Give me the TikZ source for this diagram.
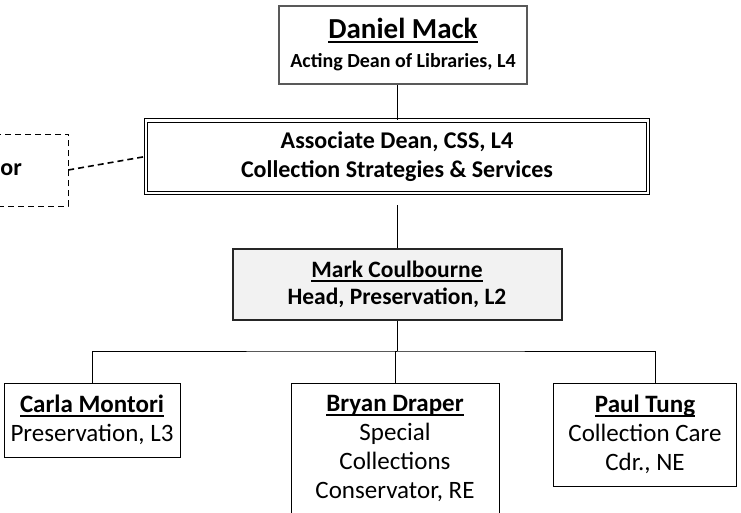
\documentclass[tikz,border=0pt]{standalone}
\usepackage{fontspec}
\setmainfont{Carlito}
\usetikzlibrary{positioning}
\definecolor{headfill}{RGB}{242,242,242}
\tikzset{x=1pt,y=1pt,line width=1.5pt}
\tikzset{
  deanbox/.style={draw=black!65,line width=2.6pt,minimum width=248pt,minimum height=78pt,
    align=flush center,font=\bfseries\fontsize{20}{29}\selectfont},
  assocbox/.style={draw,double=white,double distance=2.6pt,line width=1pt,
    minimum width=502pt,minimum height=72.6pt,align=flush center,font=\bfseries\fontsize{24}{29}\selectfont},
  headbox/.style={draw=black!85,fill=headfill,line width=2pt,minimum width=329pt,minimum height=71pt,
    align=flush center,font=\bfseries\fontsize{23.5}{27}\selectfont},
  staffbox/.style={draw,anchor=north,inner xsep=0pt,inner ysep=12pt,align=flush center,
    font=\fontsize{25}{29}\selectfont},
  vacantbox/.style={draw,dash pattern=on 6pt off 4pt,minimum width=200pt,minimum height=72.5pt}
}
\newcommand{\uln}[1]{\setbox0=\hbox{#1}\rlap{\vrule height -2.2pt depth 4.2pt width \wd0}\box0}

\begin{document}
\begin{tikzpicture}
\useasboundingbox (0,0) rectangle (741,-512);
\clip (0,0) rectangle (741,-512);

% dean, associate dean and head
\node[deanbox] (d1) at (403,-45) {{\fontsize{29}{29}\selectfont\uln{Daniel Mack}}\\Acting Dean of Libraries, L4};
\node[assocbox] (s1) at (397,-156.5) {Associate Dean, CSS, L4\\Collection Strategies \& Services};
\node[headbox] (m1) [below=54.7pt of s1] {\uln{Mark Coulbourne}\\Head, Preservation, L2};

% box on the left, mostly outside the page
\node[vacantbox] (v1) at (-32,-170) {};
\node[anchor=base east,inner sep=0pt,font=\bfseries\fontsize{24}{29}\selectfont] (v2) at (22,-175) {or};

% staff
\node[staffbox,text width=176pt] (k1) at (92,-383) {\uln{\textbf{Carla Montori}}\\Preservation, L3};
\node[staffbox,text width=208pt] (b1) at (395,-383) {\uln{\textbf{Bryan Draper}}\\Special\\Collections\\Conservator, RE};
\node[staffbox,text width=183pt] (p1) at (645,-383) {\uln{\textbf{Paul Tung}}\\Collection Care\\Cdr., NE};

\coordinate (g1) at ([yshift=-11.7pt]s1.south);
\coordinate (b0) at ([yshift=-30pt]m1.south);

\draw (s1.north |- d1.south) -- (s1.north);
\draw[dash pattern=on 6pt off 4pt,line width=1.6pt] (v1.east) -- (s1.west);
\draw (g1) -- (m1);
\draw (m1) -- (b0);
\draw (k1.north) |- (b0) -| ([xshift=10pt]p1.north);
\draw (b0) -- (b1 |- b0) -- (b1.north);
\end{tikzpicture}
\end{document}
